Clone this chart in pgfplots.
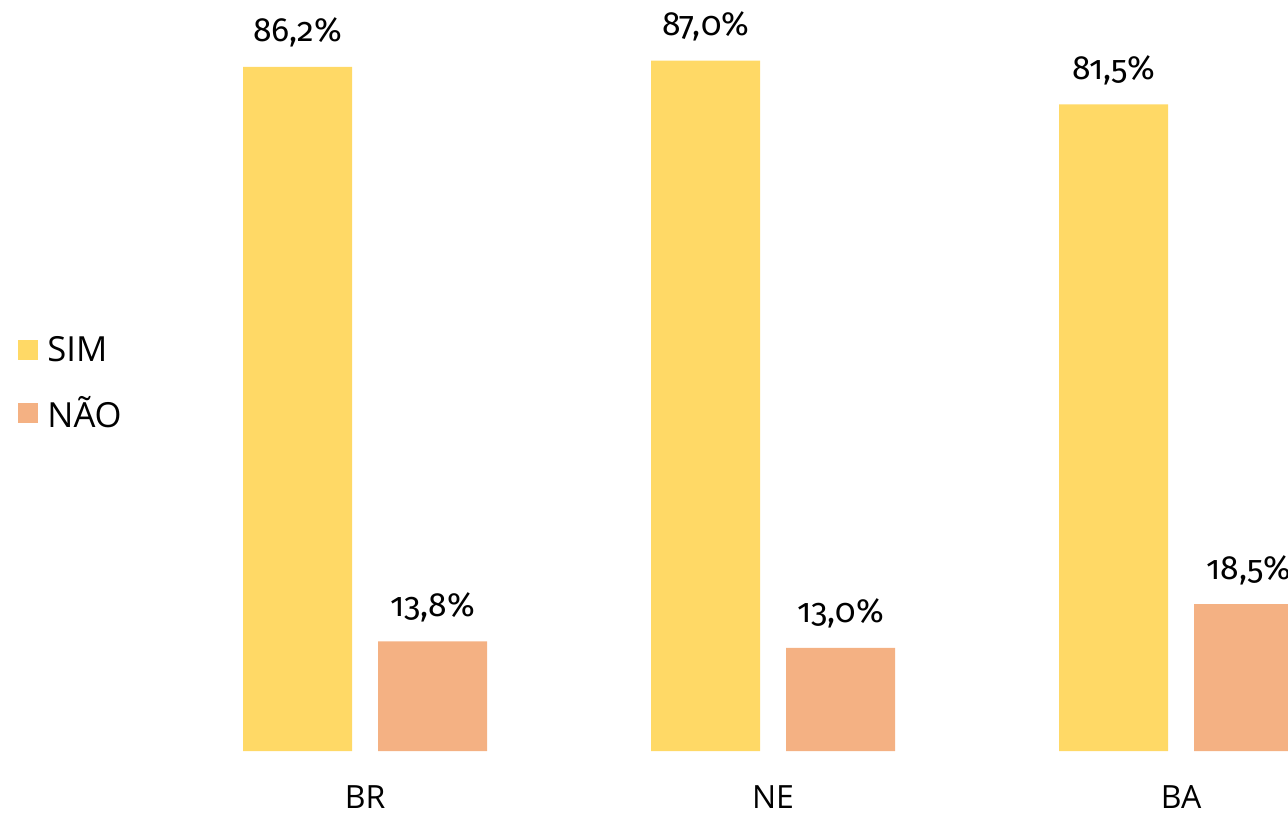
\documentclass[border=0pt]{standalone}
\usepackage{pgfplots}
\pgfplotsset{compat=1.18}
\usepackage{fontspec}
\setmainfont{Open Sans}
\newfontfamily\numfont[Numbers=OldStyle]{Fira Sans}
\definecolor{simc}{HTML}{FFD966}
\definecolor{naoc}{HTML}{F4B183}
\begin{document}
\begin{tikzpicture}
\begin{axis}[
  scale only axis, width=644pt, height=407.5pt,
  at={(0,0)}, anchor=south west,
  xmin=-0.8946, xmax=2.262, ymin=-8.066, ymax=94.64,
  axis line style={draw=none},
  major tick length=0pt,
  ymajorticks=false,
  xtick={0,1,2}, xticklabels={BR,NE,BA},
  xticklabel style={anchor=base, yshift=3.5pt, font=\fontsize{16pt}{18pt}\selectfont},
  clip=false,
  nodes near coords={\pgfmathprintnumber[fixed,fixed zerofill,precision=1,use comma,assume math mode=true]{\pgfplotspointmeta}\%},
  nodes near coords style={anchor=base, yshift=12.5pt, font=\numfont\fontsize{16.8pt}{18pt}\selectfont, text=black},
  legend style={draw=none, fill=none, at={(axis description cs:0.014,0.53)}, anchor=west,
    font=\fontsize{17.3pt}{19pt}\selectfont, row sep=12pt, inner sep=0pt},
  legend cell align=left,
  legend image code/.code={\fill[#1] (0pt,-5pt) rectangle (10pt,5pt); \path (12.5pt,0pt);},
]
\addplot[ybar, bar width=54.5pt, bar shift=-33.75pt, fill=simc, draw=none,
  every node near coord/.append style={xshift=-33.75pt}] coordinates {(0,86.2) (1,87.0) (2,81.5)};
\addplot[ybar, bar width=54.5pt, bar shift=33.75pt, fill=naoc, draw=none,
  every node near coord/.append style={xshift=33.75pt}] coordinates {(0,13.8) (1,13.0) (2,18.5)};
\legend{SIM,NÃO}
\end{axis}
\pgfresetboundingbox
\useasboundingbox (0,0) rectangle (644pt,407.5pt);
\end{tikzpicture}
\end{document}
